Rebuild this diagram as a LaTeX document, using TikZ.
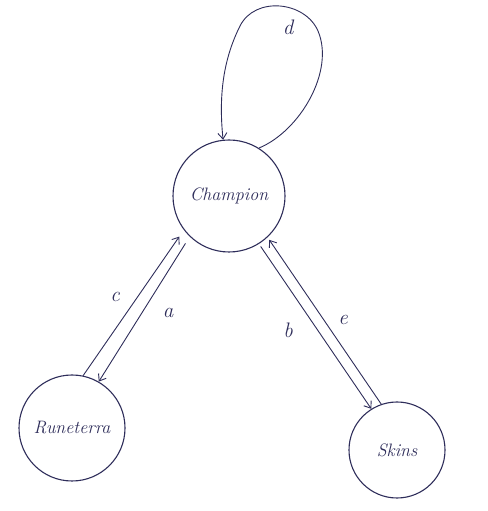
\documentclass[tikz,border=0pt]{standalone}
\usepackage{tikz}
\usetikzlibrary{arrows.meta}
\definecolor{inkblue}{RGB}{46,45,90}
\tikzset{
  state/.style={circle,draw=inkblue,line width=1.1pt,text=inkblue,font=\itshape\fontsize{18}{20}\selectfont,inner sep=0pt},
  edge/.style={draw=inkblue,line width=0.9pt,-{Straight Barb[length=6pt,width=9pt]}},
  lbl/.style={text=inkblue,font=\itshape\fontsize{21}{23}\selectfont}
}
\begin{document}
\begin{tikzpicture}[x=1pt,y=1pt]
\useasboundingbox (0,0) rectangle (487,511);

\node[state,minimum size=112pt] (champ) at (229,315) {Champion};
\node[state,minimum size=106pt] (rune) at (72,83) {Runeterra};
\node[state,minimum size=96pt] (skins) at (397,61) {Skins};

\draw[edge,shorten >=8pt] (rune.78) -- (champ.217);
\draw[edge,shorten <=8pt] (champ.226) -- (rune.60);
\draw[edge,shorten <=3pt] (champ.302) -- (skins.122);
\draw[edge,shorten >=3pt] (skins.109) -- (champ.313);

\draw[edge] (champ.58) .. controls (300,380) and (335,440) .. (318,480)
  .. controls (305,510) and (255,515) .. (240,485)
  .. controls (225,455) and (218,420) .. (champ.96);

\node[lbl] (lc) at (115,214) {c};
\node[lbl] (la) at (168,198) {a};
\node[lbl] (lb) at (288,181) {b};
\node[lbl] (le) at (343,191) {e};
\node[lbl] (ld) at (288,484) {d};
\end{tikzpicture}
\end{document}
